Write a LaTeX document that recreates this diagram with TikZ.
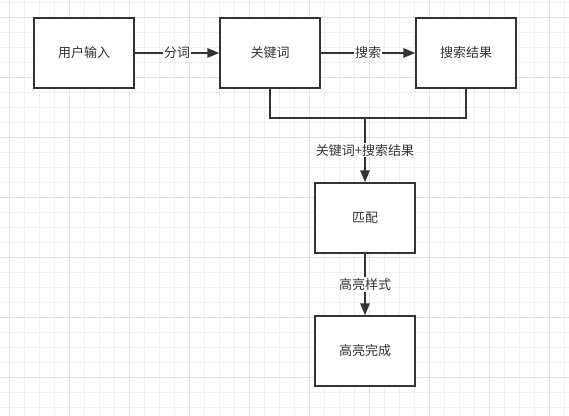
\documentclass[tikz,border=0pt]{standalone}
\usepackage{fontspec}
\setmainfont{Noto Sans CJK SC}
\usetikzlibrary{arrows.meta}
\definecolor{ink}{HTML}{333333}
\definecolor{gridminor}{HTML}{F0F0F0}
\definecolor{gridmajor}{HTML}{E2E2E2}
\tikzset{
  procbox/.style={draw=ink, line width=1.5pt, fill=white, minimum width=100pt, minimum height=70pt, inner sep=0pt, font=\fontsize{13}{15}\selectfont, text=ink},
  conn/.style={draw=ink, line width=1.5pt},
  arr/.style={conn, -{Triangle[length=12pt,width=9.5pt]}},
  lbl/.style={fill=white, inner sep=1pt, font=\fontsize{13}{15}\selectfont, text=ink}
}
\begin{document}
\begin{tikzpicture}[x=1pt,y=-1pt]
\useasboundingbox (0,0) rectangle (569,415);
\fill[white] (0,0) rectangle (569,415);
% grid
\foreach \i in {0,...,37} {
  \draw[gridminor, line width=0.8pt] ({9.3+15*\i},0) -- ({9.3+15*\i},415);
}
\foreach \i in {0,...,27} {
  \draw[gridminor, line width=0.8pt] (0,{2.3+15*\i}) -- (569,{2.3+15*\i});
}
\foreach \i in {0,...,9} {
  \draw[gridmajor, line width=0.8pt] ({9.3+60*\i},0) -- ({9.3+60*\i},415);
}
\foreach \i in {0,...,6} {
  \draw[gridmajor, line width=0.8pt] (0,{17.3+60*\i}) -- (569,{17.3+60*\i});
}
% nodes
\node[procbox] (u) at (84,53) {用户输入};
\node[procbox] (k) at (270,53) {关键词};
\node[procbox] (s) at (466,53) {搜索结果};
\node[procbox] (m) at (365,218) {匹配};
\node[procbox] (h) at (365,351) {高亮完成};
\coordinate (jn) at (365,118);
% connectors
\draw[arr] (u.east) -- node[lbl] {分词} (k.west);
\draw[arr] (k.east) -- node[lbl] {搜索} (s.west);
\draw[conn] (k.south) -- (k.south |- jn) -- (s.south |- jn) -- (s.south);
\draw[arr] (jn) -- node[lbl] {关键词+搜索结果} (m.north);
\draw[arr] (m.south) -- node[lbl] {高亮样式} (h.north);
\end{tikzpicture}
\end{document}
